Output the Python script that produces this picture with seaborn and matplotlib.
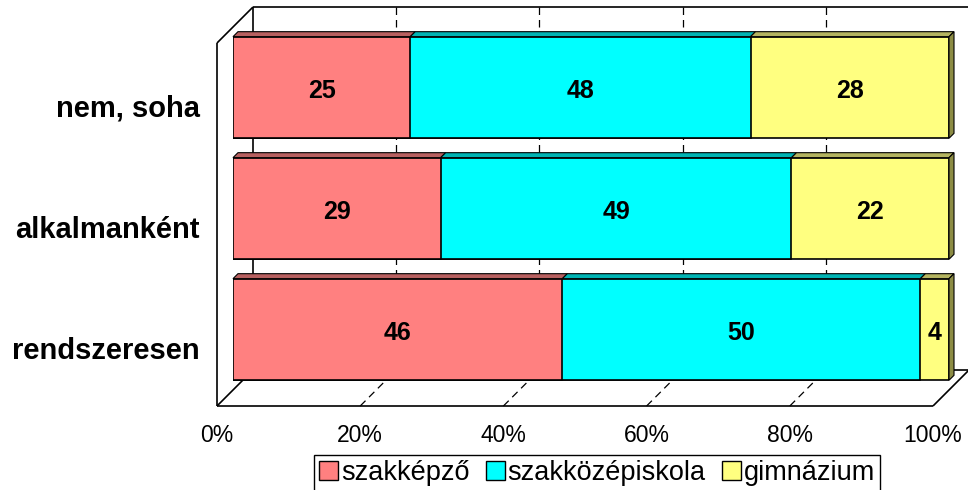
import numpy as np
import pandas as pd
import matplotlib
matplotlib.use("Agg")
import matplotlib.pyplot as plt
import matplotlib.transforms as mtransforms
from matplotlib.patches import Polygon, Patch
import seaborn as sns

# =========================
# DATA
# =========================

categories = ["nem, soha", "alkalmanként", "rendszeresen"]
series_names = ["szakképző", "szakközépiskola", "gimnázium"]
szakkepzo = [25, 29, 46]
szakkozep = [48, 49, 50]
gimnazium = [28, 22, 4]
x_ticks = [0, 20, 40, 60, 80, 100]
x_tick_labels = ["0%", "20%", "40%", "60%", "80%", "100%"]

face_colors = ["#FF8080", "#00FFFF", "#FFFF80"]
top_colors = ["#B86060", "#00B4B4", "#B4B460"]
side_color = "#8C8C44"

sns.set_style("white")
plt.rcParams["font.family"] = ["Liberation Sans", "DejaVu Sans"]
plt.rcParams["text.color"] = "black"

df = pd.DataFrame({
    "kategoria": categories,
    series_names[0]: szakkepzo,
    series_names[1]: szakkozep,
    series_names[2]: gimnazium,
})

values = df[series_names].to_numpy(float)
pct = values / values.sum(axis=1, keepdims=True) * 100
cum = np.cumsum(pct, axis=1)
left = cum - pct

# =========================
# FIGURE
# =========================

fig = plt.figure(figsize=(9.68, 4.9), dpi=100)
ax = fig.add_axes([233 / 968, 1 - 390 / 490, 716 / 968, 363 / 490])

BAR_H = 0.84
FRONT = -16   # front plane offset (px)
BACK = 20     # back wall offset (px)
DEPTH = 5     # bar depth (px)

# stacked bars: draw cumulative totals, last series first
for j in reversed(range(len(series_names))):
    sns.barplot(
        x=cum[:, j], y=df["kategoria"], orient="h",
        color=face_colors[j], saturation=1, width=BAR_H,
        edgecolor="black", linewidth=1.2, ax=ax, zorder=3,
    )

ax.set_xlim(0, 100)
ax.set_ylim(2.5, -0.5)
ax.set_autoscale_on(False)
ax.set_xlabel("")
ax.set_ylabel("")
ax.set_xticks([])
ax.set_yticks([])
ax.patch.set_alpha(0)
for s in ax.spines.values():
    s.set_visible(False)

ident = mtransforms.IdentityTransform()


def pt(x, y, d=0):
    X, Y = ax.transData.transform((x, y))
    return (X + d, Y + d)


def seg(p, q, **kw):
    ax.plot([p[0], q[0]], [p[1], q[1]], transform=ident, clip_on=False, **kw)


# =========================
# 3D BOX (walls + floor)
# =========================

box = dict(color="black", lw=1.2, zorder=1, solid_capstyle="butt")
grid = dict(color="black", lw=0.9, zorder=1, linestyle=(0, (6, 4)))

y0, y1 = -0.5, 2.5
seg(pt(0, y0, BACK), pt(100, y0, BACK), **box)
seg(pt(0, y0, BACK), pt(0, y1, BACK), **box)
seg(pt(0, y1, BACK), pt(100, y1, BACK), **box)
seg(pt(100, y0, BACK), pt(100, y1, BACK), **box)
seg(pt(0, y0, FRONT), pt(0, y1, FRONT), **box)
seg(pt(0, y1, FRONT), pt(100, y1, FRONT), **box)
seg(pt(0, y0, FRONT), pt(0, y0, BACK), **box)
seg(pt(0, y1, FRONT), pt(0, y1, BACK), **box)
seg(pt(100, y1, FRONT), pt(100, y1, BACK), **box)

for xt in x_ticks[1:-1]:
    seg(pt(xt, y0, BACK), pt(xt, y1, BACK), **grid)
    seg(pt(xt, y1, FRONT), pt(xt, y1, BACK), **grid)

# =========================
# BAR DEPTH FACES + LABELS
# =========================

lab_tr = mtransforms.offset_copy(ax.transData, fig=fig, x=0, y=-3, units="dots")

for i in range(len(categories)):
    top = i - BAR_H / 2
    bottom = i + BAR_H / 2
    for j in range(len(series_names)):
        l, r = left[i, j], cum[i, j]
        poly = [pt(l, top), pt(r, top), pt(r, top, DEPTH), pt(l, top, DEPTH)]
        ax.add_patch(Polygon(poly, closed=True, transform=ident,
                             facecolor=top_colors[j], edgecolor="black",
                             lw=0.8, zorder=3, clip_on=False))
        ax.text(l + pct[i, j] / 2, i, f"{int(values[i, j])}",
                transform=lab_tr, ha="center", va="center", fontsize=18,
                fontweight="bold", color="black", zorder=5)
    r = cum[i, -1]
    side = [pt(r, top), pt(r, bottom), pt(r, bottom, DEPTH), pt(r, top, DEPTH)]
    ax.add_patch(Polygon(side, closed=True, transform=ident,
                         facecolor=side_color, edgecolor="black",
                         lw=0.8, zorder=3, clip_on=False))

# category labels on the front plane
cat_tr = mtransforms.offset_copy(ax.transData, fig=fig, x=-33, y=FRONT - 5, units="dots")
for i, c in enumerate(categories):
    ax.text(0, i, c, transform=cat_tr, ha="right", va="center",
            fontsize=21, fontweight="bold", color="black", clip_on=False)

# x tick labels under the floor
tick_tr = mtransforms.offset_copy(ax.transData, fig=fig, x=FRONT, y=FRONT - 18, units="dots")
for xt, lab in zip(x_ticks, x_tick_labels):
    ax.text(xt, y1, lab, transform=tick_tr, ha="center", va="top",
            fontsize=16.5, color="black", clip_on=False)

# =========================
# LEGEND
# =========================

handles = [Patch(facecolor=c, edgecolor="black", lw=1) for c in face_colors]
leg = fig.legend(
    handles, series_names, loc="upper center", ncol=3,
    bbox_to_anchor=(597 / 968, 1 - 455 / 490), fontsize=19.5,
    frameon=True, fancybox=False, framealpha=1, edgecolor="black",
    handlelength=0.7, handleheight=0.7, handletextpad=0.1,
    columnspacing=0.6, borderpad=0.2, borderaxespad=0,
)
leg.get_frame().set_linewidth(1.0)
for t in leg.get_texts():
    t.set_color("black")

fig.savefig("out.png", dpi=100)
